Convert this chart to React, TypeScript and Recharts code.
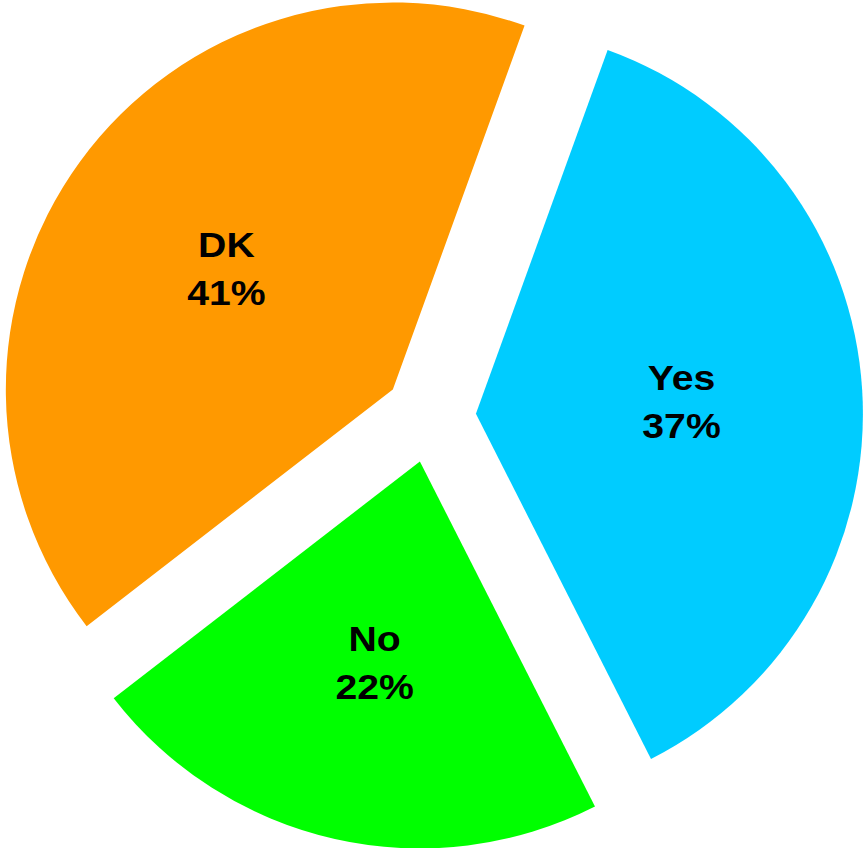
import { Cell, Pie, PieChart } from "recharts";

const categories = ["Yes", "No", "DK"];
const shares = [37, 22, 41];
const sliceColors = ["#00CCFF", "#00FF00", "#FF9900"];

const data = categories.map((name, i) => ({ name, value: shares[i] }));

const WIDTH = 863;
const HEIGHT = 848;
const CENTER_X = 430;
const CENTER_Y = 416.6;
const RADIUS = 387;
const EXPLODE = 46;
const START_ANGLE = 70.1;
const LABEL_RADIUS = 206;
const RADIAN = Math.PI / 180;

const total = shares.reduce((a, b) => a + b, 0);

// angle at the middle of a slice, from the shares
const midAngleOf = (index: number) => {
  const before = shares.slice(0, index).reduce((a, b) => a + b, 0);
  return START_ANGLE - ((before + shares[index] / 2) / total) * 360;
};

const renderLabel = (slice: number) => (props: any) => {
  const name = props.name ?? props.payload?.name;
  if (name !== categories[slice]) return null;
  const { cx, cy, midAngle, percent } = props;
  const x = cx + LABEL_RADIUS * Math.cos(-midAngle * RADIAN);
  const y = cy + LABEL_RADIUS * Math.sin(-midAngle * RADIAN);
  return (
    <text
      transform={`translate(${x},${y}) scale(1.12,1)`}
      textAnchor="middle"
      fontFamily="'Liberation Sans', Arial, sans-serif"
      fontWeight="bold"
      fontSize={35}
      fill="#000"
    >
      <tspan x={0} y={-11.5}>
        {name}
      </tspan>
      <tspan x={0} y={36.5}>{`${Math.round(percent * 100)}%`}</tspan>
    </text>
  );
};

const App = () => {
  return (
    <div style={{ position: "absolute", left: 0, top: 0, width: WIDTH, height: HEIGHT, background: "#fff" }}>
      <PieChart width={WIDTH} height={HEIGHT} margin={{ top: 0, right: 0, bottom: 0, left: 0 }}>
        {categories.map((cat, slice) => {
          const mid = midAngleOf(slice);
          const cx = CENTER_X + EXPLODE * Math.cos(mid * RADIAN);
          const cy = CENTER_Y - EXPLODE * Math.sin(mid * RADIAN);
          return (
            <Pie
              key={cat}
              data={data}
              dataKey="value"
              nameKey="name"
              cx={cx}
              cy={cy}
              outerRadius={RADIUS}
              startAngle={START_ANGLE}
              endAngle={START_ANGLE - 360}
              stroke="none"
              labelLine={false}
              label={renderLabel(slice)}
              isAnimationActive={false}
            >
              {data.map((d, i) => (
                <Cell key={d.name} fill={i === slice ? sliceColors[i] : "none"} stroke="none" />
              ))}
            </Pie>
          );
        })}
      </PieChart>
    </div>
  );
};

export default App;
